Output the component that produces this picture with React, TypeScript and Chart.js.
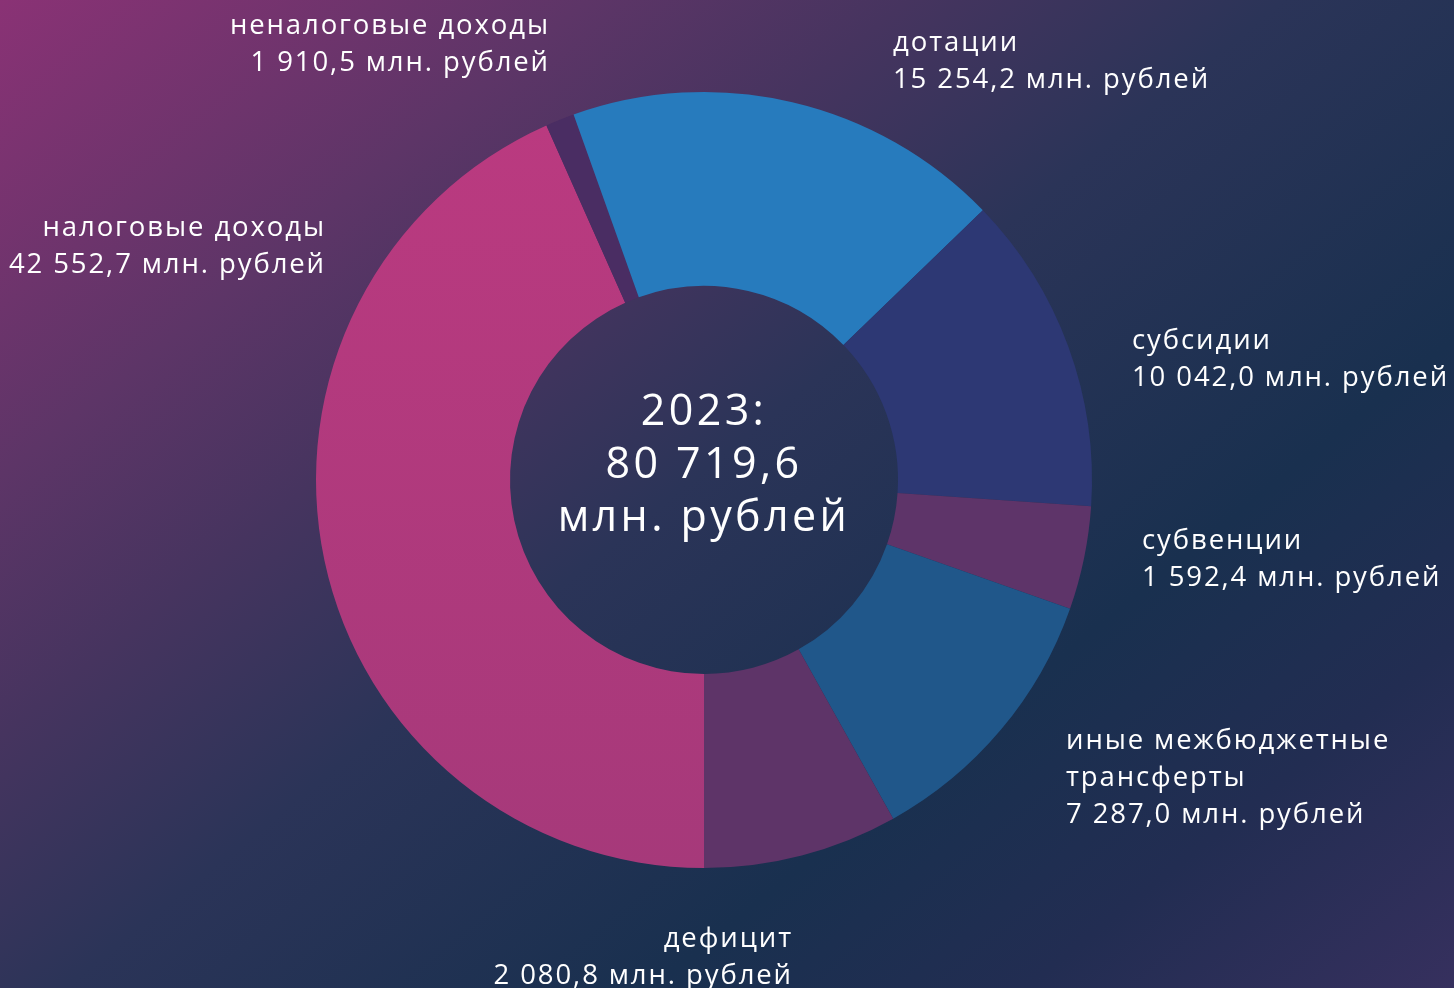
import React, { useEffect, useRef } from "react";
import { Chart, registerables } from "chart.js";

Chart.register(...registerables);

// ---- data ----
const categories = [
  "налоговые доходы",
  "неналоговые доходы",
  "дотации",
  "субсидии",
  "субвенции",
  "иные межбюджетные трансферты",
  "дефицит",
];
// label lines as printed next to each slice
const labelLines = [
  ["налоговые доходы", "42 552,7 млн. рублей"],
  ["неналоговые доходы", "1 910,5 млн. рублей"],
  ["дотации", "15 254,2 млн. рублей"],
  ["субсидии", "10 042,0 млн. рублей"],
  ["субвенции", "1 592,4 млн. рублей"],
  ["иные межбюджетные", "трансферты", "7 287,0 млн. рублей"],
  ["дефицит", "2 080,8 млн. рублей"],
];
// slice shares (%) as drawn in the picture
const sliceShares = [43.3, 1.2, 18.2, 13.3, 4.3, 11.5, 8.1];
const centerLines = ["2023:", "80 719,6", "млн. рублей"];

// ---- styles ----
const sliceColors = [
  "#b2397e",
  "#4a2d63",
  "#277bbd",
  "#2d3874",
  "#5e3469",
  "#20578a",
  "#5e3468",
];
const FONT = "'Open Sans', 'DejaVu Sans', sans-serif";
type Pos = { left?: number; right?: number; top: number; align: "left" | "right" };
const labelPos: Pos[] = [
  { right: 1454 - 326, top: 207, align: "right" },
  { right: 1454 - 550, top: 5, align: "right" },
  { left: 893, top: 22, align: "left" },
  { left: 1132, top: 320, align: "left" },
  { left: 1142, top: 520, align: "left" },
  { left: 1066, top: 720, align: "left" },
  { right: 1454 - 793, top: 918, align: "right" },
];

export default function App() {
  const ref = useRef<HTMLCanvasElement | null>(null);

  useEffect(() => {
    document.body.style.margin = "0";
    const canvas = ref.current;
    if (!canvas) return;
    const pinkGradient = (ctx: any) => {
      const chart = ctx.chart;
      const area = chart.chartArea;
      if (!area) return sliceColors[0];
      const g = chart.ctx.createLinearGradient(0, area.top, 0, area.bottom);
      g.addColorStop(0, "#bb3a80");
      g.addColorStop(1, "#a6397a");
      return g;
    };
    const chart = new Chart(canvas, {
      type: "doughnut",
      data: {
        labels: categories,
        datasets: [
          {
            data: sliceShares,
            backgroundColor: (ctx: any) =>
              ctx.dataIndex === 0 ? pinkGradient(ctx) : sliceColors[ctx.dataIndex],
            borderWidth: 0,
            hoverOffset: 0,
          },
        ],
      },
      options: {
        responsive: false,
        animation: false,
        rotation: 180,
        cutout: "50%",
        layout: { padding: { left: 316, right: 362, top: 92, bottom: 120 } },
        plugins: {
          legend: { display: false },
          tooltip: { enabled: false },
          title: { display: false },
        },
      },
    });
    return () => chart.destroy();
  }, []);

  return (
    <div
      style={{
        position: "absolute",
        left: 0,
        top: 0,
        width: 1454,
        height: 988,
        overflow: "hidden",
        background:
          "linear-gradient(141deg, #8a3275 0%, #5d3567 22%, #46345f 34%, #2b3458 48%, #19304f 70%, #222d52 84%, #36305e 100%)",
        fontFamily: FONT,
        color: "#ffffff",
      }}
    >
      <canvas ref={ref} width={1454} height={988} style={{ display: "block", position: "absolute", left: 0, top: 0 }} />
      {labelLines.map((lines, i) => {
        const p = labelPos[i];
        const st: any = {
          position: "absolute",
          top: p.top,
          textAlign: p.align,
          fontSize: 27.5,
          lineHeight: "37px",
          whiteSpace: "nowrap",
          letterSpacing: "1.9px",
        };
        if (p.left !== undefined) st.left = p.left;
        if (p.right !== undefined) st.right = p.right;
        return (
          <div key={i} style={st}>
            {lines.map((l, j) => (
              <div key={j}>{l}</div>
            ))}
          </div>
        );
      })}
      <div
        style={{
          position: "absolute",
          left: 454,
          width: 500,
          top: 382,
          textAlign: "center",
          fontSize: 43,
          lineHeight: "53px",
          letterSpacing: "3.4px",
        }}
      >
        {centerLines.map((l, j) => (
          <div key={j}>{l}</div>
        ))}
      </div>
    </div>
  );
}
